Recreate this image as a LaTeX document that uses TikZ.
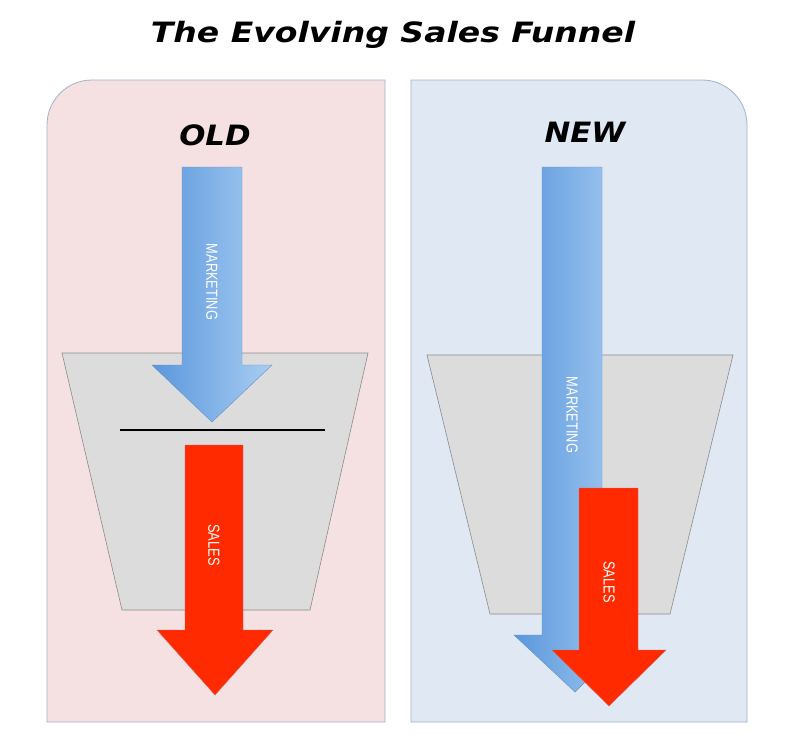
\documentclass[tikz,border=0pt]{standalone}
\usepackage{fontspec}
\setmainfont{DejaVu Sans}
\newfontfamily\condfont{Liberation Sans}
\definecolor{pinkpanel}{HTML}{F5E1E1}
\definecolor{bluepanel}{HTML}{DFE8F3}
\definecolor{panelline}{HTML}{9FB3CF}
\definecolor{funnelgrey}{HTML}{DCDCDC}
\definecolor{arrowdark}{HTML}{5A97DC}
\definecolor{arrowlight}{HTML}{A9CDF2}
\definecolor{salesred}{HTML}{FF2A00}
\begin{document}
\begin{tikzpicture}[x=1pt,y=-1pt,
  panel/.style={draw=panelline, line width=0.8pt},
  funnel/.style={fill=funnelgrey, draw=black!45, line width=0.6pt},
  blue arrow/.style={left color=arrowdark, right color=arrowlight, draw=arrowdark!70!gray, line width=0.4pt},
  red arrow/.style={fill=salesred, draw=red!70!black!60, line width=0.4pt},
  lbl/.style={text=white, font=\condfont\fontsize{16}{18}\selectfont, rotate=-90, xscale=0.8},
  head/.style={font=\bfseries\itshape\fontsize{28}{30}\selectfont, xscale=1.1}]
\useasboundingbox (0,0) rectangle (799,752);
\fill[white] (0,0) rectangle (799,752);
\node[font=\bfseries\itshape\fontsize{28}{30}\selectfont, xscale=1.18] (title) at (393,35) {The Evolving Sales Funnel};
% panels
\draw[panel, fill=pinkpanel] (47,722) [rounded corners=45pt] -- (47,80) [sharp corners] -- (385,80) -- (385,722) -- cycle;
\draw[panel, fill=bluepanel] (411,722) -- (411,80) [rounded corners=45pt] -- (747,80) [sharp corners] -- (747,722) -- cycle;
\node[head] (old) at (215,135) {OLD};
\node[head] (new) at (585,132) {NEW};
% left funnel
\draw[funnel] (62,353) -- (368,353) -- (310,610) -- (122,610) -- cycle;
\draw[line width=1.8pt] (120,430) -- (325,430);
\draw[blue arrow] (182,167) -- (242,167) -- (242,365) -- (272,365) -- (212,422) -- (152,365) -- (182,365) -- cycle;
\node[lbl] (m1) at (212,282) {MARKETING};
\draw[red arrow] (185,445) -- (243,445) -- (243,630) -- (273,630) -- (215,695) -- (157,630) -- (185,630) -- cycle;
\node[lbl] (s1) at (214,545) {SALES};
% right funnel
\draw[funnel] (427,355) -- (733,355) -- (670,614) -- (490,614) -- cycle;
\draw[blue arrow] (542,167) -- (602,167) -- (602,635) -- (632,635) -- (575,692) -- (514,635) -- (542,635) -- cycle;
\node[lbl] (m2) at (572,415) {MARKETING};
\draw[red arrow] (579,488) -- (638,488) -- (638,650) -- (666,650) -- (609,706) -- (552,650) -- (579,650) -- cycle;
\node[lbl] (s2) at (609,582) {SALES};
\end{tikzpicture}
\end{document}
